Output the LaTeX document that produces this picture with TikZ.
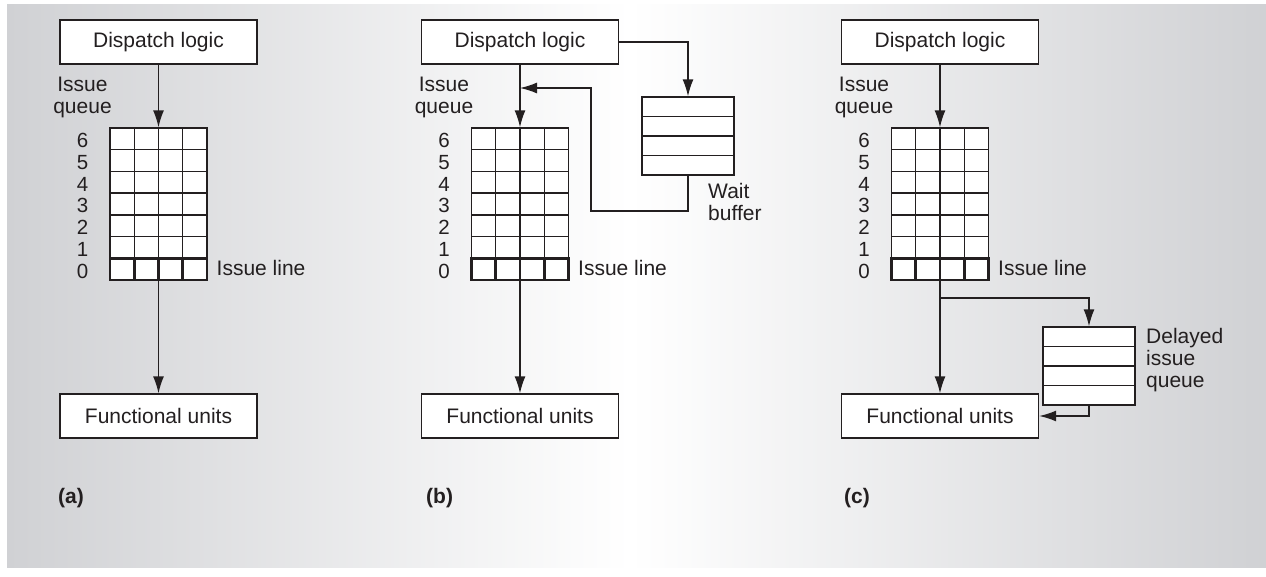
\documentclass[tikz,border=0pt]{standalone}
\usepackage{fontspec}
\setmainfont{Liberation Sans}
\usetikzlibrary{arrows.meta}

\definecolor{bgside}{RGB}{208,209,212}
\definecolor{ink}{RGB}{35,31,32}

\tikzset{
  box/.style={draw=ink, fill=white, line width=1.4pt, inner sep=0pt,
    minimum width=197pt, minimum height=44pt, text=ink,
    font=\fontsize{21}{25}\selectfont},
  slot/.style={draw=ink, fill=white, line width=1.4pt, inner sep=0pt},
  lbl/.style={inner sep=0pt, text=ink, font=\fontsize{21}{22}\selectfont},
  arr/.style={draw=ink, line width=1.4pt, -{Latex[length=17pt,width=11pt]}}
}

\begin{document}
\begin{tikzpicture}[x=1pt,y=-1pt]

\useasboundingbox (0,0) rectangle (1266,576);
\shade[left color=bgside, right color=white] (7,4) rectangle (630,567);
\shade[left color=white, right color=bgside] (629.5,4) rectangle (1266,567);

% the three issue queues
\foreach \X/\p/\L in {158.5/a/58, 520/b/426, 940/c/844} {
    \node[box] (disp\p) at (\X,42) {Dispatch logic};
    \node[box] (fu\p) at (\X,416) {Functional units};
    \node[slot, minimum width=97pt, minimum height=152pt] (queue\p) at (\X,204) {};

    \foreach \c in {1,2,3}
        \draw[ink, line width=1.4pt] (\X-48.5+\c*24.25,128) -- ++(0,152);
    \foreach \r in {1,...,6}
        \draw[ink, line width=1.4pt] (\X-48.5,128+\r*21.7) -- ++(97,0);
    \draw[ink, line width=2.8pt] (\X-48.5,258.3) rectangle (\X+48.5,280);
    \foreach \c in {1,2,3}
        \draw[ink, line width=2.8pt] (\X-48.5+\c*24.25,258.3) -- ++(0,21.7);

    \foreach \r in {0,...,6}
        \node[lbl, font=\fontsize{20.5}{22}\selectfont] (row\p\r) at (\X-76,271-\r*21.7) {\r};

    \node[lbl, align=center] (iq\p) at (\X-76,97) {Issue\\queue};
    \node[lbl, anchor=west] (il\p) at (\X+58,268) {Issue line};
    \node[lbl, anchor=west, font=\fontsize{21}{22}\selectfont\bfseries] (tag\p) at (\L,498) {(\p)};

    \draw[arr] (disp\p) -- (queue\p);
    \draw[arr] (queue\p) -- (fu\p);
}

% (b) wait buffer
\node[slot, minimum width=92pt, minimum height=78pt] (wbuf) at (688,136) {};
\foreach \r in {1,2,3}
    \draw[ink, line width=1.4pt] (642,97+\r*19.5) -- ++(92,0);
\node[lbl, anchor=west, align=left] (wlbl) at (708,202) {Wait\\buffer};
\coordinate (turnb) at (591,211);
\coordinate (joinb) at (520,88);
\draw[arr] (dispb.east) -| (wbuf.north);
\draw[arr] (wbuf.south) |- (turnb) |- (joinb);

% (c) delayed issue queue
\node[slot, minimum width=92pt, minimum height=78pt] (dq) at (1089,366) {};
\foreach \r in {1,2,3}
    \draw[ink, line width=1.4pt] (1043,327+\r*19.5) -- ++(92,0);
\node[lbl, anchor=west, align=left] (dqlbl) at (1146,360) {Delayed\\issue\\queue};
\coordinate (splitc) at (940,298);
\draw[arr] (splitc) -| (dq.north);
\draw[arr] (dq.south) |- (fuc.east);

\end{tikzpicture}
\end{document}
